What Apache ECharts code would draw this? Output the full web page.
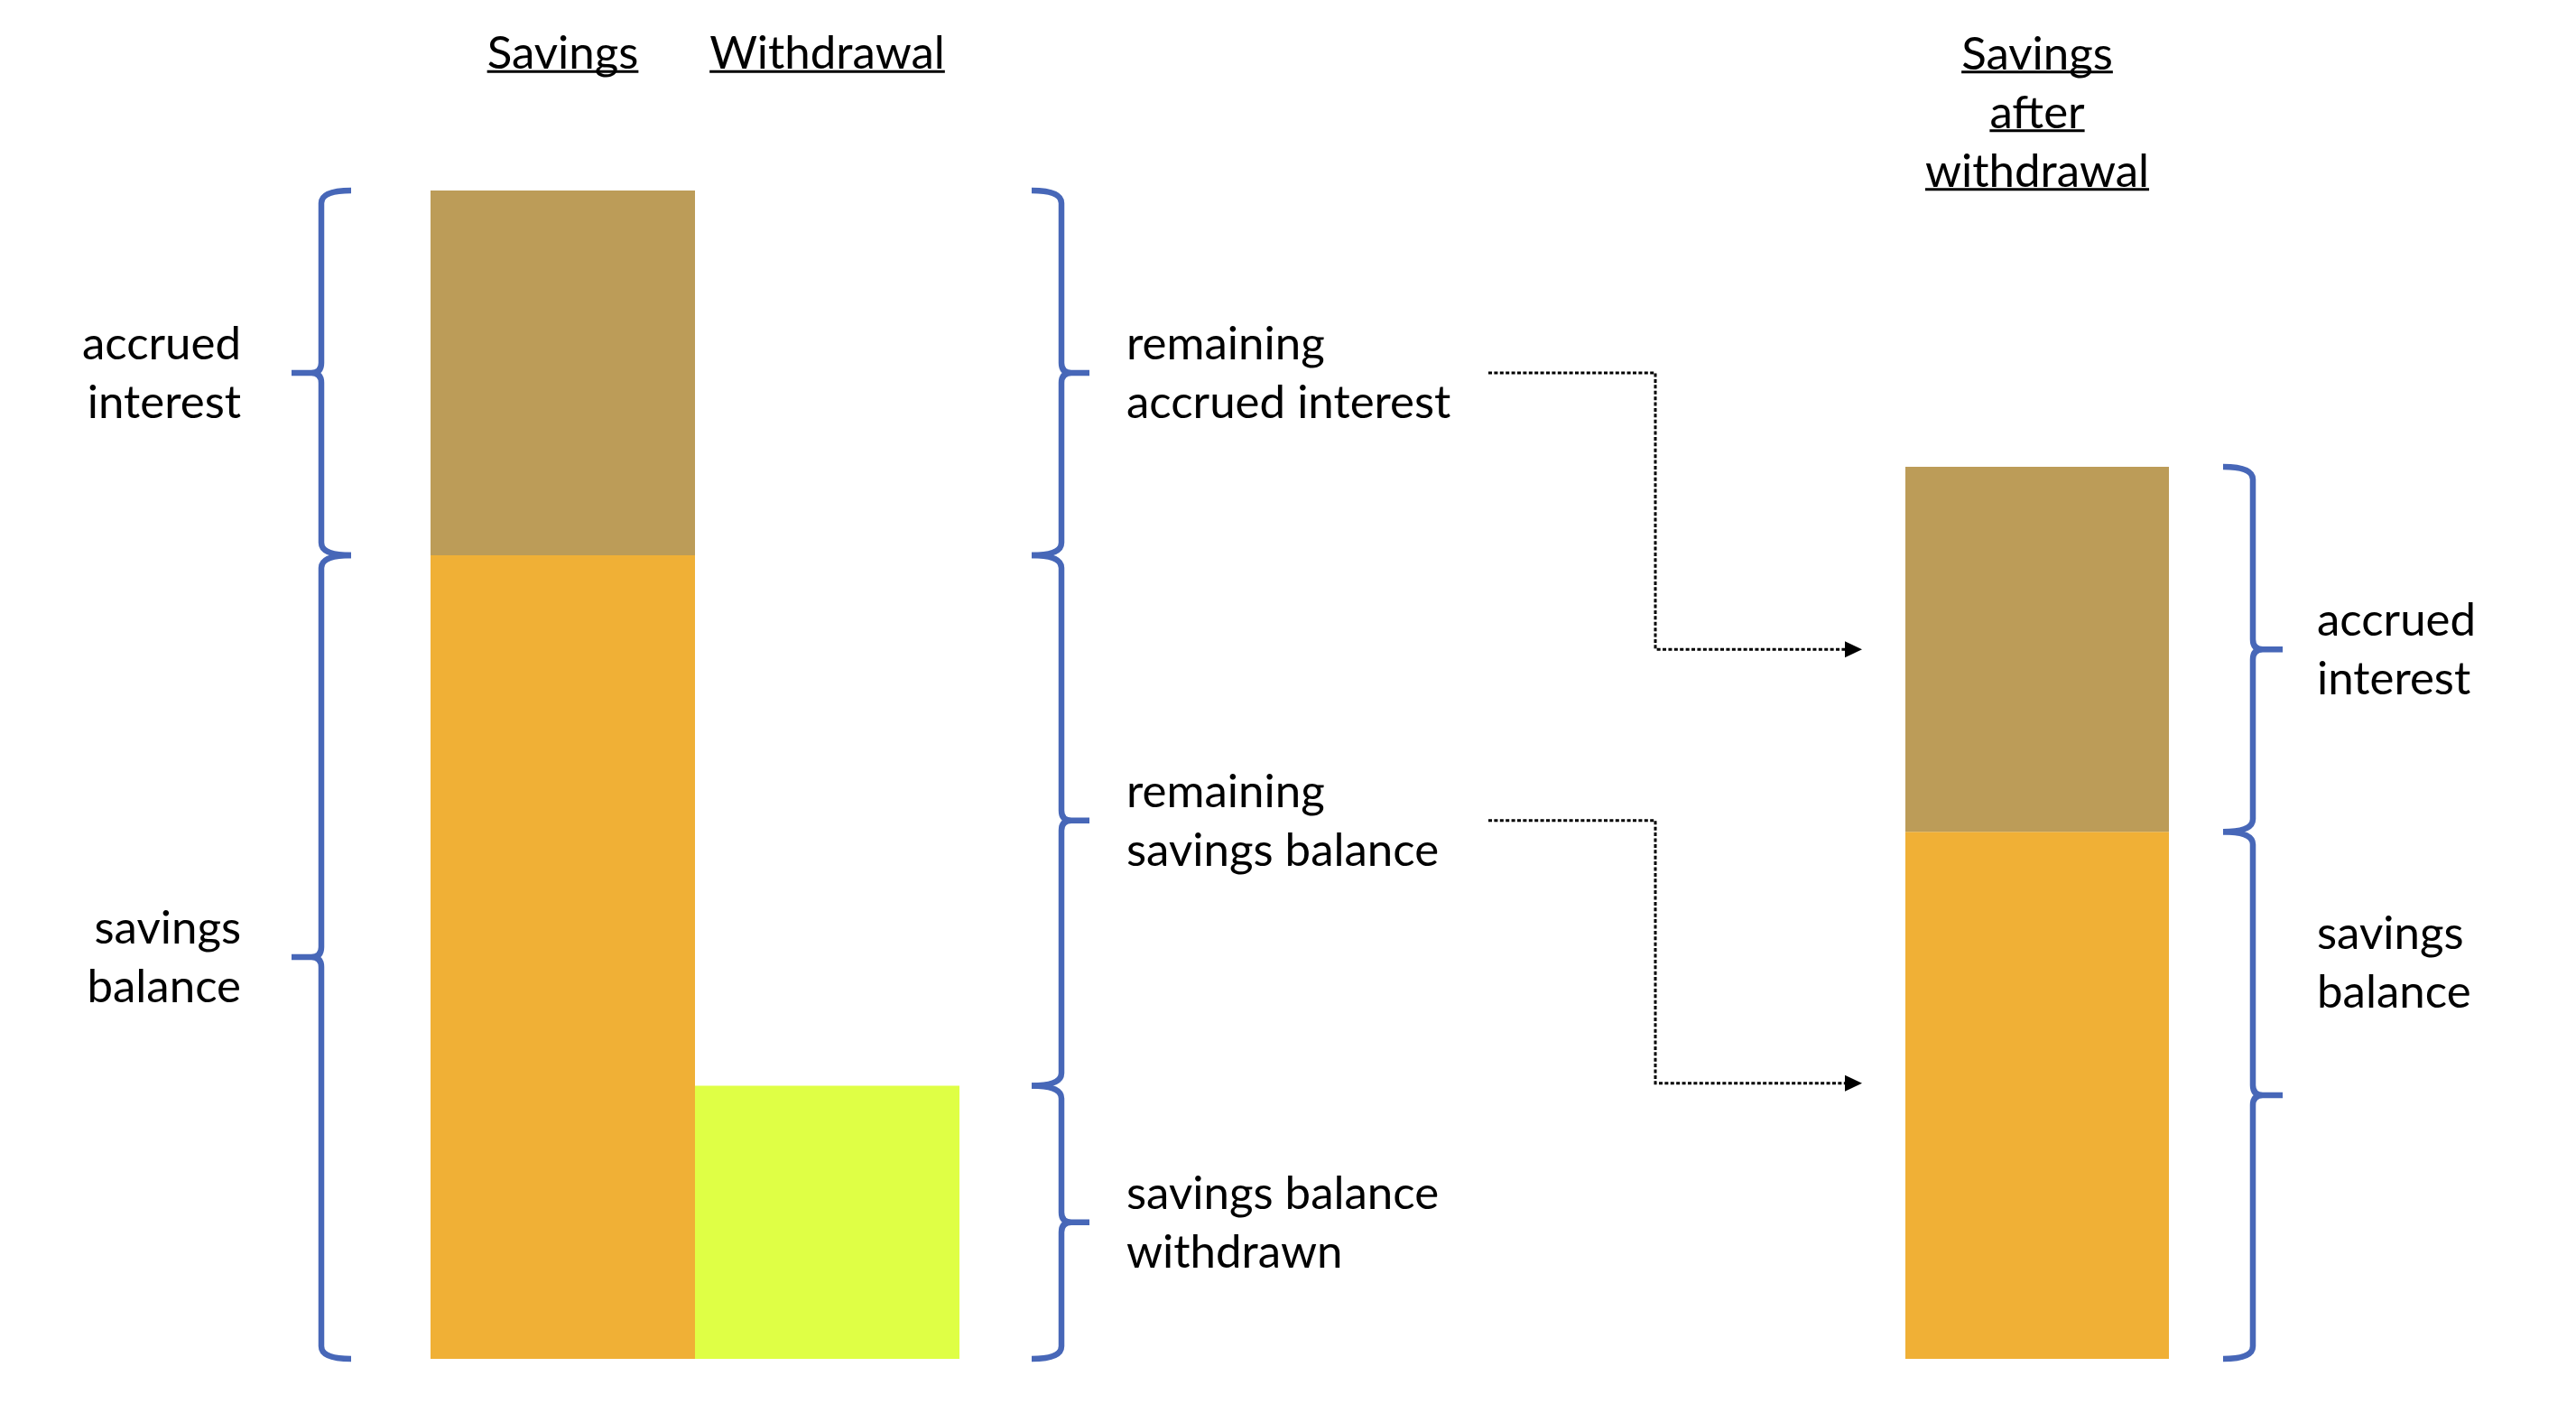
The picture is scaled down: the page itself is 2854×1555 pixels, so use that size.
<!DOCTYPE html>
<html><head><meta charset="utf-8">
<script src="https://cdn.jsdelivr.net/npm/echarts@6/dist/echarts.min.js"></script>
<style>html,body{margin:0;padding:0;background:#fff}#c{width:2854px;height:1555px}</style>
</head><body><div id="c"></div>
<script>
// ---- data ----
const categories = ['Savings', 'Withdrawal', 'Savings\nafter\nwithdrawal'];
const savingsBalance = [100, '-', 65.6];
const accruedInterest = [45.4, '-', 45.4];
const withdrawnAmount = ['-', 34, '-'];
// braces: [categoryIndex, from, to, label, labelLevel(optional)]
const bracesSavings = [[0, 100, 145.4, 'accrued\ninterest'], [0, 0, 100, 'savings\nbalance']];
const bracesRemaining = [[1, 100, 145.4, 'remaining\naccrued interest'], [1, 34, 100, 'remaining\nsavings balance'], [1, 0, 34, 'savings balance\nwithdrawn']];
const bracesAfter = [[0, 65.6, 111, 'accrued\ninterest'], [0, 0, 65.6, 'savings\nbalance', 49.3]];
const arrowFrom = [122.7, 67];
const arrowTo = [88.3, 34.3];
const yMax = 150;

// ---- style ----
const FONT_SIZE = 51, LH = 65;
const FONT = FONT_SIZE + 'px Lato';
const C_BAL = '#F0B036', C_INT = '#BC9C58', C_WD = '#DFFF45', C_BRACE = '#4767B8';
const GRID_TOP = 170, GRID_BOTTOM = 50;
const M0 = 77.75, M1 = -52.75, UL_OFF = 18;

const chart = echarts.init(document.getElementById('c'), null, {renderer: 'canvas'});

function braceRender(list, cfg) {
  return function (params, api) {
    const b = list[params.dataIndex];
    const cx = api.coord([b[0], 0])[0];
    const half = api.size([1, 0])[0] / 2;
    const d = cfg.dir;
    const ref = cx + d * half;
    const yA = api.coord([b[0], b[1]])[1], yB = api.coord([b[0], b[2]])[1];
    const y0 = Math.min(yA, yB), y1 = Math.max(yA, yB), ym = (y0 + y1) / 2;
    const xE = ref + d * cfg.end, xV = ref + d * cfg.v, xT = ref + d * cfg.tip;
    const r = 14, rt = 11;
    const p = 'M' + xE + ',' + y0 + ' Q' + xV + ',' + y0 + ' ' + xV + ',' + (y0 + r) +
      ' L' + xV + ',' + (ym - rt) + ' Q' + xV + ',' + ym + ' ' + (xV + d * rt) + ',' + ym +
      ' L' + xT + ',' + ym + ' M' + (xV + d * rt) + ',' + ym + ' Q' + xV + ',' + ym + ' ' + xV + ',' + (ym + rt) +
      ' L' + xV + ',' + (y1 - r) + ' Q' + xV + ',' + y1 + ' ' + xE + ',' + y1;
    const ly = b[4] != null ? api.coord([b[0], b[4]])[1] : ym;
    return {
      type: 'group', children: [
        {type: 'path', shape: {pathData: p}, style: {stroke: C_BRACE, lineWidth: 6.5, fill: null, lineJoin: 'round'}},
        {type: 'text', style: {text: b[3], x: ref + d * cfg.text, y: ly + cfg.dy, align: d < 0 ? 'right' : 'left',
          verticalAlign: 'middle', font: FONT, lineHeight: LH, fill: '#000'}}
      ]
    };
  };
}

function arrowRender(params, api) {
  const i = params.dataIndex;
  const cx = api.coord([0, 0])[0];
  const half = api.size([1, 0])[0] / 2;
  const ref = cx - half;
  const ya = api.coord([0, arrowFrom[i]])[1], yb = api.coord([0, arrowTo[i]])[1];
  const xs = ref - 462, xc = ref - 277, xt = ref - 48;
  return {
    type: 'group', children: [
      {type: 'polyline', shape: {points: [[xs, ya], [xc, ya], [xc, yb], [xt - 17, yb]]},
        style: {stroke: '#000', lineWidth: 3, lineDash: [4, 2.4], fill: null}},
      {type: 'polygon', shape: {points: [[xt - 19, yb - 9], [xt, yb], [xt - 19, yb + 9]]}, style: {fill: '#000'}}
    ]
  };
}

const labelStyle = {fontFamily: 'Lato', fontSize: FONT_SIZE, color: '#000', lineHeight: LH, interval: 0};

const option = {
  animation: false,
  backgroundColor: '#fff',
  grid: [
    {left: 477, width: 586, top: GRID_TOP, bottom: GRID_BOTTOM},
    {left: 2111, width: 292, top: GRID_TOP, bottom: GRID_BOTTOM}
  ],
  xAxis: [
    {type: 'category', gridIndex: 0, position: 'top', data: categories.slice(0, 2),
      axisLine: {show: false}, axisTick: {show: false}, splitLine: {show: false},
      axisLabel: Object.assign({margin: M0}, labelStyle)},
    {type: 'category', gridIndex: 1, position: 'top', data: categories.slice(2),
      axisLine: {show: false}, axisTick: {show: false}, splitLine: {show: false},
      axisLabel: Object.assign({margin: M1}, labelStyle)}
  ],
  yAxis: [
    {type: 'value', gridIndex: 0, min: 0, max: yMax, show: false},
    {type: 'value', gridIndex: 1, min: 0, max: yMax, show: false}
  ],
  series: [
    {type: 'bar', name: 'savings balance', xAxisIndex: 0, yAxisIndex: 0, stack: 'a', barWidth: '100%',
      data: savingsBalance.slice(0, 2), itemStyle: {color: C_BAL}, silent: true},
    {type: 'bar', name: 'accrued interest', xAxisIndex: 0, yAxisIndex: 0, stack: 'a', barWidth: '100%',
      data: accruedInterest.slice(0, 2), itemStyle: {color: C_INT}, silent: true},
    {type: 'bar', name: 'withdrawal', xAxisIndex: 0, yAxisIndex: 0, stack: 'a', barWidth: '100%',
      data: withdrawnAmount.slice(0, 2), itemStyle: {color: C_WD}, silent: true},
    {type: 'bar', name: 'savings balance after', xAxisIndex: 1, yAxisIndex: 1, stack: 'b', barWidth: '100%',
      data: savingsBalance.slice(2), itemStyle: {color: C_BAL}, silent: true},
    {type: 'bar', name: 'accrued interest after', xAxisIndex: 1, yAxisIndex: 1, stack: 'b', barWidth: '100%',
      data: accruedInterest.slice(2), itemStyle: {color: C_INT}, silent: true},
    {type: 'custom', xAxisIndex: 0, yAxisIndex: 0, clip: false, silent: true, z: 5,
      data: bracesSavings.map(b => [b[0], b[1], b[2]]),
      renderItem: braceRender(bracesSavings, {dir: -1, end: 88, v: 121, tip: 154, text: 210, dy: 1})},
    {type: 'custom', xAxisIndex: 0, yAxisIndex: 0, clip: false, silent: true, z: 5,
      data: bracesRemaining.map(b => [b[0], b[1], b[2]]),
      renderItem: braceRender(bracesRemaining, {dir: 1, end: 80, v: 113, tip: 144, text: 185, dy: 1})},
    {type: 'custom', xAxisIndex: 1, yAxisIndex: 1, clip: false, silent: true, z: 5,
      data: bracesAfter.map(b => [b[0], b[1], b[2]]),
      renderItem: braceRender(bracesAfter, {dir: 1, end: 60, v: 93, tip: 126, text: 164, dy: 1})},
    {type: 'custom', xAxisIndex: 1, yAxisIndex: 1, clip: false, silent: true, z: 5,
      data: arrowFrom.map((v, i) => [0, v, arrowTo[i]]),
      renderItem: arrowRender}
  ]
};
chart.setOption(option);

// underlines for the column headings
const ctx = document.createElement('canvas').getContext('2d');
ctx.font = FONT;
const graphics = [];
[[0, 0, M0], [0, 1, M0], [3, 0, M1]].forEach(function (g, k) {
  const seriesIndex = g[0], idx = g[1], margin = g[2];
  const label = categories[k];
  const lines = label.split('\n');
  const cx = chart.convertToPixel({seriesIndex: seriesIndex}, [idx, 0])[0];
  const bottom = GRID_TOP - margin;
  lines.forEach(function (ln, j) {
    const center = bottom - LH * (lines.length - j - 0.5);
    const w = ctx.measureText(ln).width;
    graphics.push({type: 'rect', shape: {x: cx - w / 2, y: center + UL_OFF, width: w, height: 3}, style: {fill: '#000'}, silent: true});
  });
});
chart.setOption({graphic: graphics});
</script></body></html>
